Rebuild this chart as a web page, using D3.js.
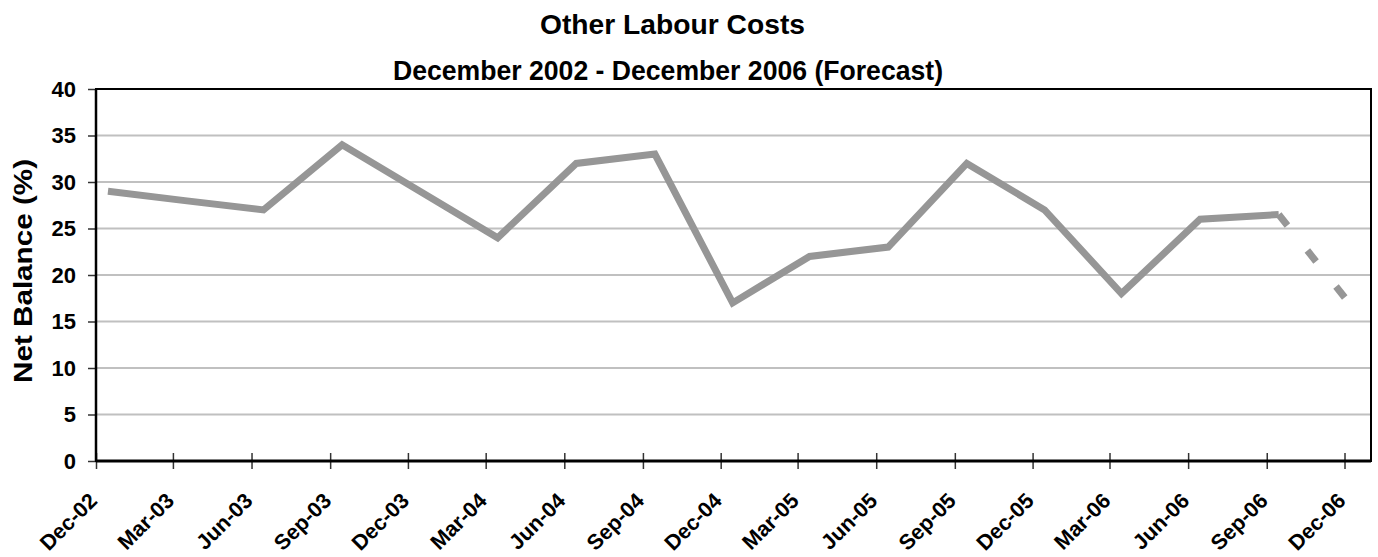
<!DOCTYPE html>
<html><head><meta charset="utf-8">
<script src="https://cdn.jsdelivr.net/npm/d3@7"></script>
<style>body{margin:0;background:#fff}text{font-family:"Liberation Sans",Arial,sans-serif;font-weight:bold;fill:#000}</style>
</head><body><svg id="c" width="1378" height="557"></svg>
<script>
const quarters = ["2002-12","2003-03","2003-06","2003-09","2003-12","2004-03","2004-06","2004-09","2004-12","2005-03","2005-06","2005-09","2005-12","2006-03","2006-06","2006-09","2006-12"];
const actualValues = [29,28,27,34,29,24,32,33,17,22,23,32,27,18,26,26.5];
const forecastValues = [26.5,16];
const yTicks = [0,5,10,15,20,25,30,35,40];
const titleLines = ["Other Labour Costs","December 2002 - December 2006 (Forecast)"];
const yTitle = "Net Balance (%)";

const svg = d3.select("#c");
const L=96,R=1371,T=89,B=461;
const parse = d3.timeParse("%Y-%m-%d");
const tickDates = quarters.map(q=>parse(q+"-01"));
const ptDates = quarters.map(q=>parse(q+"-15"));
const x = d3.scaleTime().domain([parse("2002-12-01"),parse("2007-01-01")]).range([L,R]);
const y = d3.scaleLinear().domain([0,40]).range([B,T]);

// gridlines
svg.append("g").selectAll("line").data(yTicks.filter(v=>v>0&&v<40)).join("line")
  .attr("x1",L).attr("x2",R).attr("y1",d=>y(d)).attr("y2",d=>y(d))
  .attr("stroke","#c0c0c0").attr("stroke-width",2);

// y axis
const ya = svg.append("g").attr("transform",`translate(${L},0)`)
  .call(d3.axisLeft(y).tickValues(yTicks).tickSize(8).tickPadding(12));
ya.select(".domain").remove();
ya.selectAll(".tick line").attr("stroke","#333").attr("stroke-width",1.5);
ya.selectAll(".tick text").attr("font-size",22).attr("fill","#000");

// x axis
const xa = svg.append("g").attr("transform",`translate(0,${B})`)
  .call(d3.axisBottom(x).tickValues(tickDates).tickSize(8).tickFormat(d3.timeFormat("%b-%y")));
xa.select(".domain").remove();
xa.selectAll(".tick line").attr("y1",-8).attr("y2",8).attr("stroke","#333").attr("stroke-width",1.5);
xa.selectAll(".tick text").attr("font-size",21.5).attr("fill","#000")
  .attr("text-anchor","end").attr("dy",null).attr("y",0)
  .attr("transform","translate(2,41) rotate(-45)");

// plot border
svg.append("rect").attr("x",L).attr("y",T).attr("width",R-L).attr("height",B-T)
  .attr("fill","none").attr("stroke","#000").attr("stroke-width",2);
svg.append("line").attr("x1",L).attr("x2",R).attr("y1",B).attr("y2",B).attr("stroke","#000").attr("stroke-width",3);
svg.append("line").attr("x1",L).attr("x2",L).attr("y1",T).attr("y2",B).attr("stroke","#000").attr("stroke-width",2.5);

// lines
const line = d3.line().x(d=>x(d[0])).y(d=>y(d[1]));
const act = actualValues.map((v,i)=>[ptDates[i],v]);
svg.append("path").datum(act).attr("d",line).attr("fill","none")
  .attr("stroke","#969696").attr("stroke-width",7).attr("stroke-linejoin","miter").attr("stroke-miterlimit",4);
const fc = forecastValues.map((v,i)=>[ptDates[15+i],v]);
svg.append("path").datum(fc).attr("d",line).attr("fill","none")
  .attr("stroke","#969696").attr("stroke-width",7).attr("stroke-dasharray","14,32");

// titles
svg.append("text").attr("x",540).attr("y",34).attr("font-size",28).attr("textLength",265).attr("lengthAdjust","spacingAndGlyphs").text(titleLines[0]);
svg.append("text").attr("x",393).attr("y",80).attr("font-size",28).attr("textLength",550).attr("lengthAdjust","spacingAndGlyphs").text(titleLines[1]);
svg.append("text").attr("transform","translate(32,271) rotate(-90)").attr("text-anchor","middle")
  .attr("font-size",26).attr("textLength",224).attr("lengthAdjust","spacingAndGlyphs").text(yTitle);
</script></body></html>
